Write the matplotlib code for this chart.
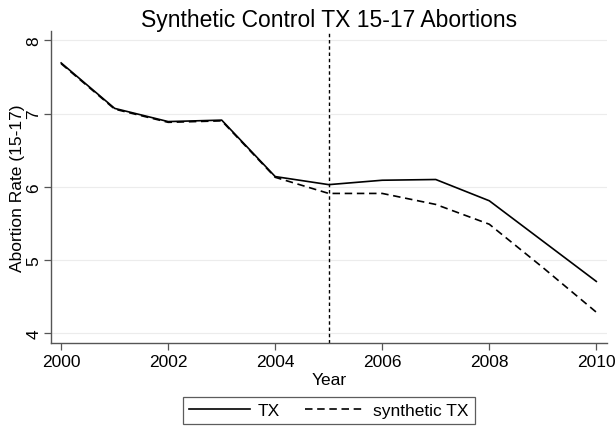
import matplotlib
matplotlib.use("Agg")
import matplotlib.pyplot as plt

years = [2000, 2001, 2002, 2003, 2004, 2005, 2006, 2007, 2008, 2009, 2010]
tx = [7.69, 7.07, 6.89, 6.91, 6.14, 6.03, 6.09, 6.10, 5.81, 5.26, 4.71]
synthetic_tx = [7.68, 7.06, 6.88, 6.90, 6.13, 5.91, 5.91, 5.76, 5.49, 4.90, 4.29]
treatment_year = 2005
x_ticks = [2000, 2002, 2004, 2006, 2008, 2010]
y_ticks = [4, 5, 6, 7, 8]

plt.rcParams['font.family'] = ['Liberation Sans', 'DejaVu Sans']

fig = plt.figure(figsize=(6.15, 4.27), dpi=100)
ax = fig.add_axes([0.0829, 0.1944, 0.9041, 0.7314])

ax.plot(years, tx, color='black', lw=1.2, label='TX')
ax.plot(years, synthetic_tx, color='black', lw=1.2, dashes=(4.5, 2.8), label='synthetic TX')
ax.axvline(treatment_year, color='black', lw=1.0, dashes=(2.5, 2.0))

ax.set_xlim(1999.81, 2010.2)
ax.set_ylim(3.87, 8.13)
ax.set_xticks(x_ticks)
ax.set_yticks(y_ticks)
ax.set_yticklabels([str(v) for v in y_ticks], rotation=90, va='center')
ax.grid(axis='y', color='#ececec', lw=0.8)
ax.set_axisbelow(True)

for s in ['top', 'right']:
    ax.spines[s].set_visible(False)
for s in ['left', 'bottom']:
    ax.spines[s].set_color('#555555')
    ax.spines[s].set_linewidth(1.0)
ax.tick_params(colors='#555555', labelcolor='black', labelsize=12.5, length=5, width=0.9, pad=3)
ax.tick_params(axis='y', pad=2)

ax.set_xlabel('Year', fontsize=12.5, labelpad=2)
ax.set_ylabel('Abortion Rate (15-17)', fontsize=12.5, labelpad=1)
ax.set_title('Synthetic Control TX 15-17 Abortions', fontsize=16.5, pad=3.5)

leg = fig.legend(loc='center', bbox_to_anchor=(329 / 615, 1 - 411.5 / 427), ncol=2,
                 frameon=True, fancybox=False, fontsize=12.5, handlelength=3.5,
                 columnspacing=1.4, borderpad=0.35, handletextpad=0.45)
leg.get_frame().set_edgecolor('#333333')
leg.get_frame().set_linewidth(0.9)

fig.savefig('out.png', dpi=100)
